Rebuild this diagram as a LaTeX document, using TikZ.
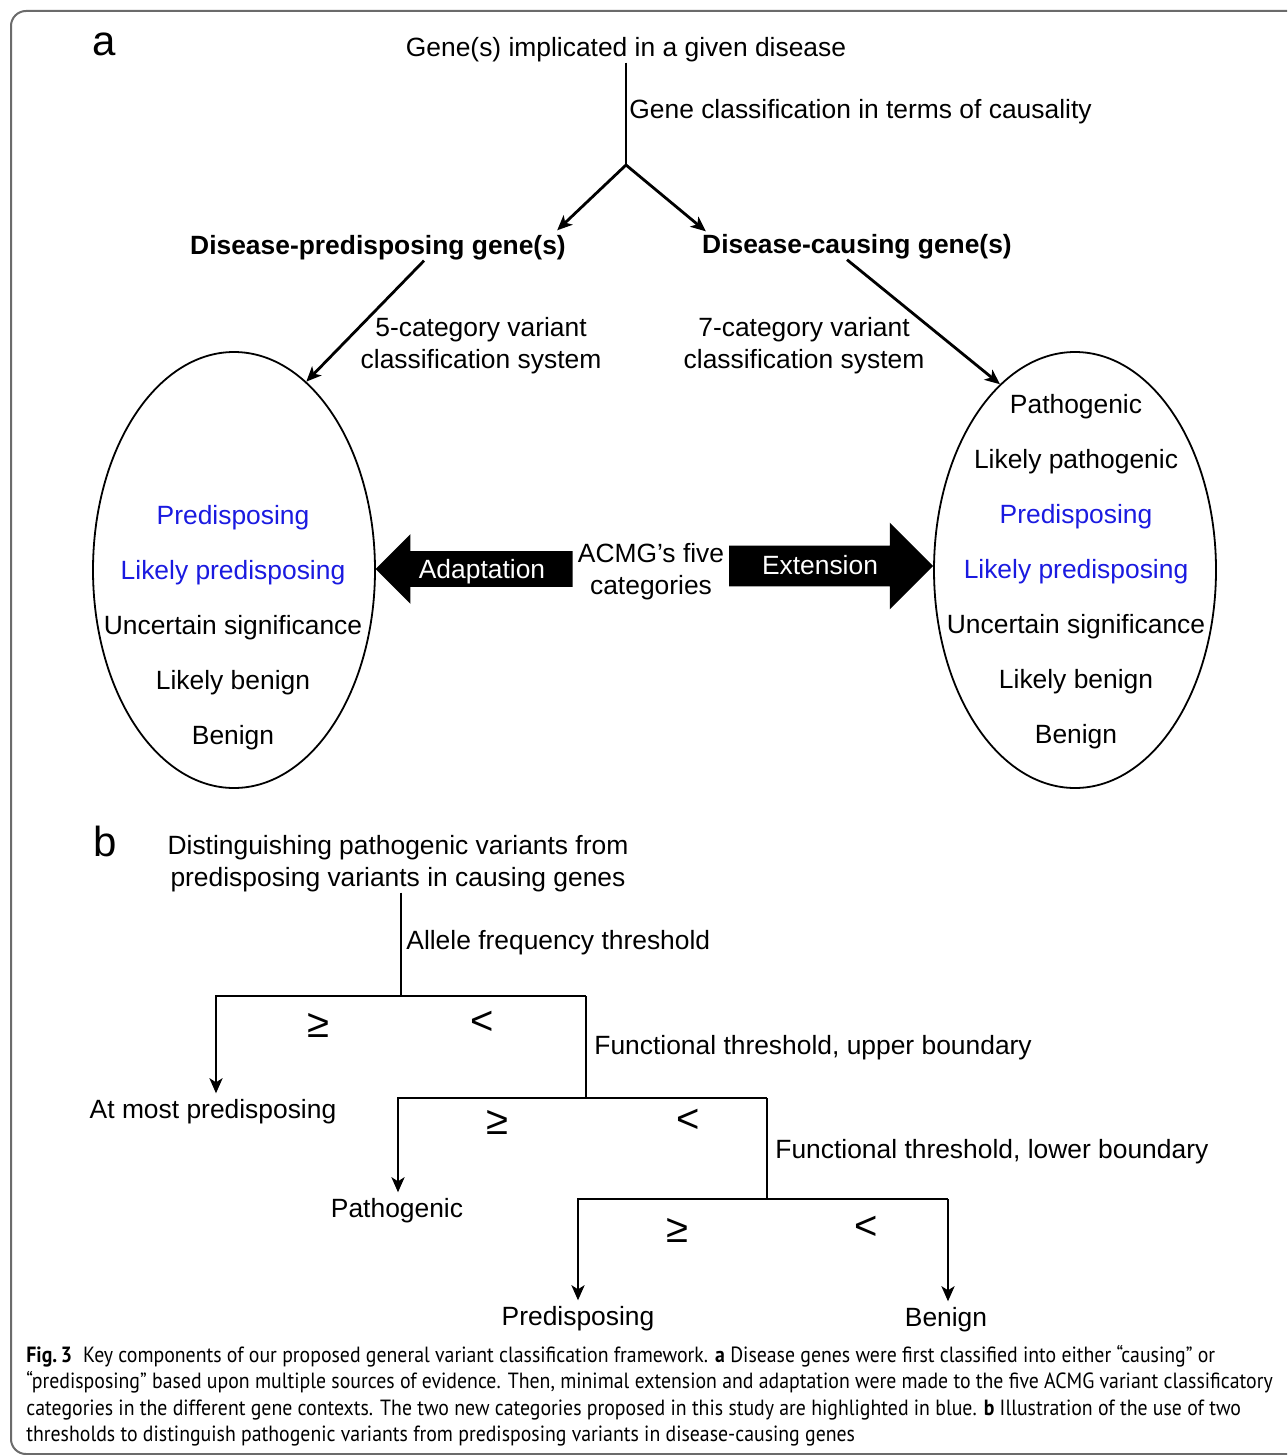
\documentclass[tikz,border=0pt]{standalone}
\usepackage{fontspec}
\setmainfont{Liberation Sans}
\newfontfamily\capfont[FakeStretch=0.9]{PT Sans}
\usepackage{tikz}
\usetikzlibrary{arrows.meta,positioning,calc,shapes.geometric,shapes.arrows}
\definecolor{NewBlue}{HTML}{1A1AE0}
\definecolor{FrameGray}{HTML}{6B6B6B}
\newcommand{\lblfont}{\fontsize{13.2}{16}\selectfont}

\begin{document}
\begin{tikzpicture}[x=.5pt,y=-.5pt,>={Stealth[length=7.5pt,width=6.5pt,inset=2pt]},
    lbl/.style={font=\lblfont,inner sep=0pt,text height=9.9pt,text depth=2.9pt},
    two/.style={font=\lblfont,inner sep=0pt,align=center},
    tag/.style={font=\fontsize{21}{24}\selectfont,inner sep=0pt,text height=15.7pt,text depth=4.6pt},
    rel/.style={font=\fontsize{20}{22}\selectfont,inner sep=0pt},
    ln/.style={line width=1.4pt},
    down/.style={ln,->,shorten >=2.5pt},
    oval/.style={draw,ellipse,line width=.9pt,inner sep=0pt,minimum width=141pt,minimum height=218pt},
    blk/.style={single arrow,fill=black,inner xsep=0pt,single arrow tip angle=90},
    wtxt/.style={lbl,text=white}]
  \useasboundingbox (0,0) rectangle (1287,1455);
  \draw[FrameGray,line width=1pt,rounded corners=7.5pt] (1287,11) -- (11,11) -- (11,1454) -- (1287,1454);

  % parte a
  \node[tag] (pa) at (104,44) {a};
  \node[lbl] (gene) at (626,49.5) {Gene(s) implicated in a given disease};
  \node[lbl,anchor=west] (gcl) at (629,111.5) {Gene classification in terms of causality};
  \coordinate (fork) at (626,165);
  \draw[ln] (gene.south -| fork) -- (fork);

  \node[lbl,font=\lblfont\bfseries] (pred) at (378,247.5) {Disease-predisposing gene(s)};
  \node[lbl,font=\lblfont\bfseries] (caus) at (857,246.5) {Disease-causing gene(s)};
  \draw[ln,->] (fork) -- ($(pred.north east)+(-9,-4)$);
  \draw[ln,->] (fork) -- ($(caus.north west)+(4,-2)$);

  \node[two] (five) at (481,346) {5-category variant\\classification system};
  \node[two] (seven) at (804,346) {7-category variant\\classification system};

  \node[oval] (lov) at (234,570) {};
  \node[oval] (rov) at (1075,570) {};
  \draw[ln,->] ($(pred.south)+(46,0)$) -- (lov.69);
  \draw[ln,->] ($(caus.south)+(-10,0)$) -- (rov.112);

  \node[lbl,text=NewBlue] (lpre) at (233,517.5) {Predisposing};
  \node[lbl,text=NewBlue] (llpre) at (233,572.5) {Likely predisposing};
  \node[lbl] (lunc) at (233,627.5) {Uncertain significance};
  \node[lbl] (llben) at (233,682.5) {Likely benign};
  \node[lbl] (lben) at (233,737.5) {Benign};

  \node[lbl] (rpat) at (1076,406.5) {Pathogenic};
  \node[lbl] (rlpat) at (1076,461.5) {Likely pathogenic};
  \node[lbl,text=NewBlue] (rpre) at (1076,516.5) {Predisposing};
  \node[lbl,text=NewBlue] (rlpre) at (1076,571.5) {Likely predisposing};
  \node[lbl] (runc) at (1076,626.5) {Uncertain significance};
  \node[lbl] (rlben) at (1076,681.5) {Likely benign};
  \node[lbl] (rben) at (1076,736.5) {Benign};

  % flechas de bloque
  \node[blk,shape border rotate=180,inner ysep=8.75pt,single arrow head extend=8.5pt,
        minimum height=98.5pt] (adapt) at (483,569) {};
  \node[wtxt] (adtxt) at (482,571.5) {Adaptation};
  \node[blk,inner ysep=10pt,single arrow head extend=11.5pt,
        minimum height=102pt] (ext) at (821,566) {};
  \node[wtxt] (extxt) at (820,567.5) {Extension};
  \node[two] (acmg) at (651,572) {ACMG’s five\\categories};

  % parte b
  \node[tag] (pb) at (105,845) {b};
  \node[two] (dist) at (398,864) {Distinguishing pathogenic variants from\\predisposing variants in causing genes};
  \coordinate (s1) at (401,996);
  \coordinate (l1) at (216,996);
  \coordinate (r1) at (586,996);
  \coordinate (l2) at (398,1098);
  \coordinate (r2) at (767,1098);
  \coordinate (l3) at (578,1199);
  \coordinate (r3) at (948,1199);

  \node[lbl,anchor=west] (afr) at (406,942.5) {Allele frequency threshold};
  \node[lbl,anchor=west] (fup) at (594,1047.5) {Functional threshold, upper boundary};
  \node[lbl,anchor=west] (flo) at (775,1151.5) {Functional threshold, lower boundary};

  \node[lbl] (amp) at (213,1111.5) {At most predisposing};
  \node[lbl] (patho) at (397,1210.5) {Pathogenic};
  \node[lbl] (pdis) at (578,1318.5) {Predisposing};
  \node[lbl] (ben) at (946,1319.5) {Benign};

  \node[rel] (ge1) at (318,1025) {≥};
  \node[rel] (lt1) at (482,1023) {<};
  \node[rel] (ge2) at (497,1122) {≥};
  \node[rel] (lt2) at (688,1121) {<};
  \node[rel] (ge3) at (677,1230) {≥};
  \node[rel] (lt3) at (866,1228) {<};

  \draw[ln] (s1 |- dist.south) -- (s1);
  \draw[down] (r1) -- (l1) -- (l1 |- amp.north);
  \draw[ln] (r1) -- (r1 |- l2);
  \draw[down] (r2) -- (l2) -- (l2 |- patho.north);
  \draw[ln] (r2) -- (r2 |- l3);
  \draw[down] (r3) -- (l3) -- (l3 |- pdis.north);
  \draw[down] (r3) -- (r3 |- ben.north);

  \node[font=\capfont\fontsize{11}{13.15}\selectfont,inner sep=0pt,align=left,anchor=north west] (caption) at (26,1345)
    {\textbf{Fig.\,3}\enspace Key components of our proposed general variant classification framework. \textbf{a} Disease genes were first classified into either “causing” or\\
     “predisposing” based upon multiple sources of evidence. Then, minimal extension and adaptation were made to the five ACMG variant classificatory\\
     categories in the different gene contexts. The two new categories proposed in this study are highlighted in blue. \textbf{b} Illustration of the use of two\\
     thresholds to distinguish pathogenic variants from predisposing variants in disease-causing genes};
\end{tikzpicture}
\end{document}
